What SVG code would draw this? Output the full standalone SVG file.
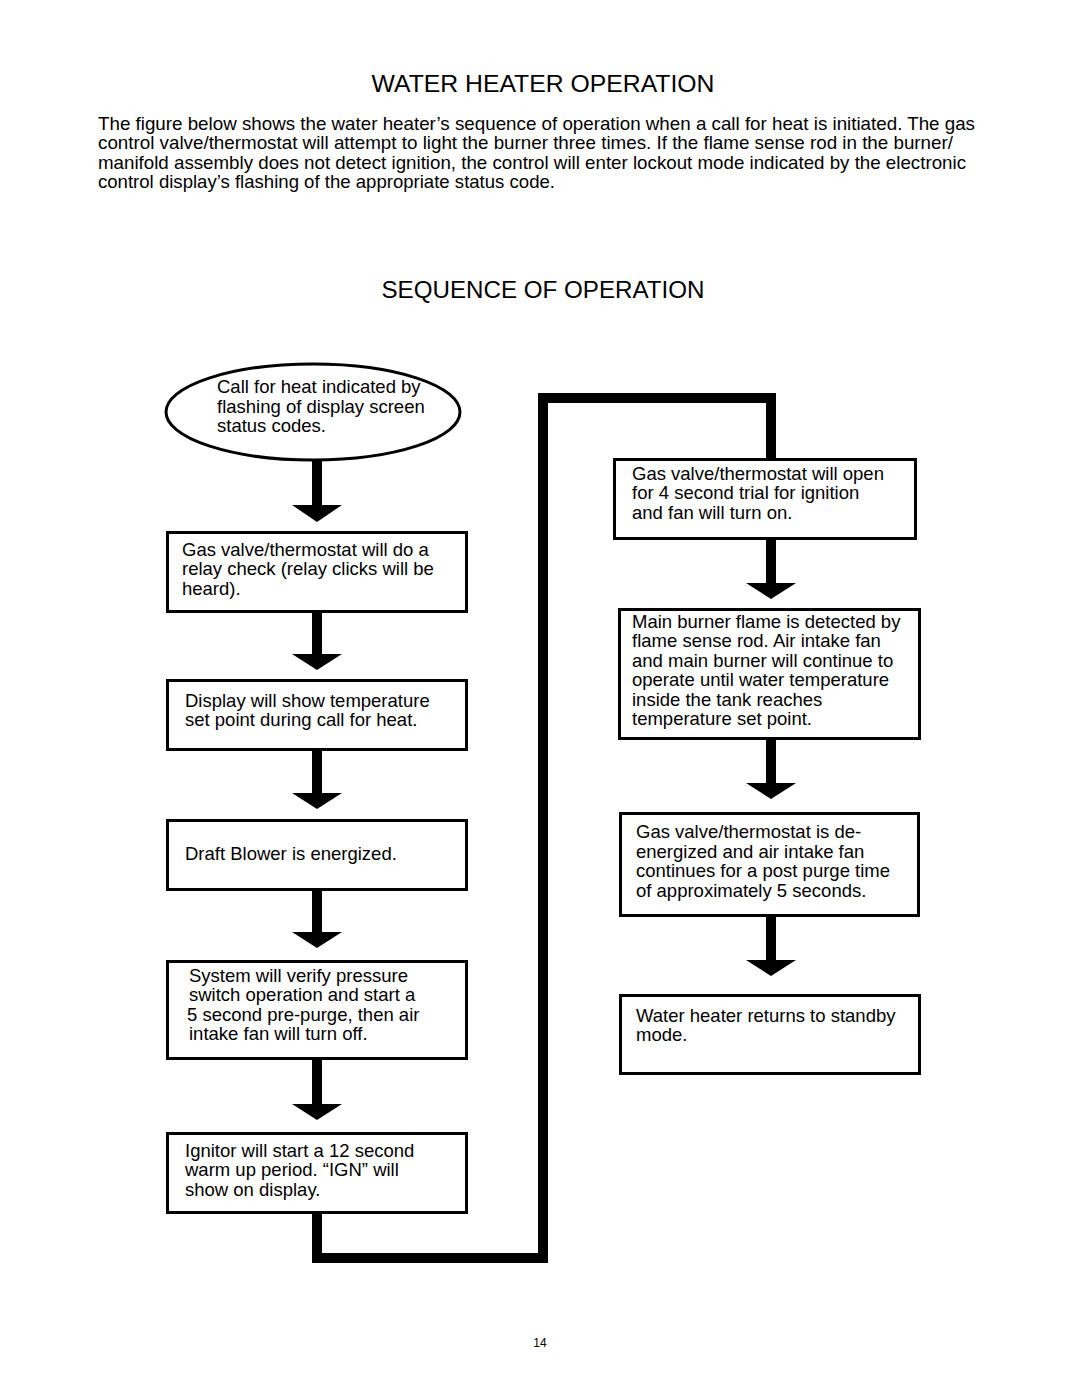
<svg xmlns="http://www.w3.org/2000/svg" width="1080" height="1397" viewBox="0 0 1080 1397">
<style>
text{font-family:"Liberation Sans",Arial,sans-serif;fill:#000}
.t{font-size:18.5px}
.h{font-size:24px}
.p{font-size:18.5px}
.box{fill:#fff;stroke:#000;stroke-width:3}
.arr{fill:#000}
.loop{fill:none;stroke:#000;stroke-width:10;stroke-linejoin:miter}
</style>
<rect width="1080" height="1397" fill="#fff"/>
<text class="h" x="543" y="92" text-anchor="middle" textLength="343" lengthAdjust="spacingAndGlyphs">WATER HEATER OPERATION</text>
<text class="p" x="98" y="130" textLength="877" lengthAdjust="spacingAndGlyphs">The figure below shows the water heater’s sequence of operation when a call for heat is initiated. The gas</text>
<text class="p" x="98" y="149" textLength="855" lengthAdjust="spacingAndGlyphs">control valve/thermostat will attempt to light the burner three times. If the flame sense rod in the burner/</text>
<text class="p" x="98" y="169" textLength="868" lengthAdjust="spacingAndGlyphs">manifold assembly does not detect ignition, the control will enter lockout mode indicated by the electronic</text>
<text class="p" x="98" y="188" textLength="457" lengthAdjust="spacingAndGlyphs">control display’s flashing of the appropriate status code.</text>
<text class="h" x="543" y="298" text-anchor="middle" textLength="323" lengthAdjust="spacingAndGlyphs">SEQUENCE OF OPERATION</text>

<g id="connectors">
<polyline class="loop" points="317,1212 317,1258 543,1258 543,398 771,398 771,460"/>
<path class="arr" d="M312,458 H322 V505 H342 L317,522 L292,505 H312 Z"/>
<path class="arr" d="M312,612 H322 V654 H342 L317,670 L292,654 H312 Z"/>
<path class="arr" d="M312,749 H322 V793 H342 L317,809 L292,793 H312 Z"/>
<path class="arr" d="M312,890 H322 V932 H342 L317,948 L292,932 H312 Z"/>
<path class="arr" d="M312,1059 H322 V1104 H342 L317,1120 L292,1104 H312 Z"/>
<path class="arr" d="M766,539 H776 V583 H796 L771,599 L746,583 H766 Z"/>
<path class="arr" d="M766,739 H776 V783 H796 L771,799 L746,783 H766 Z"/>
<path class="arr" d="M766,916 H776 V960 H796 L771,976 L746,960 H766 Z"/>
</g>

<g id="start">
<ellipse class="box" cx="313" cy="412" rx="147" ry="48"/>
<text class="t" x="217" y="393">Call for heat indicated by</text>
<text class="t" x="217" y="413">flashing of display screen</text>
<text class="t" x="217" y="432">status codes.</text>
</g>
<g id="relay">
<rect class="box" x="167.5" y="532.5" width="299" height="79"/>
<text class="t" x="182" y="556">Gas valve/thermostat will do a</text>
<text class="t" x="182" y="575">relay check (relay clicks will be</text>
<text class="t" x="182" y="595">heard).</text>
</g>
<g id="display">
<rect class="box" x="167.5" y="680.5" width="299" height="69"/>
<text class="t" x="185" y="707">Display will show temperature</text>
<text class="t" x="185" y="726">set point during call for heat.</text>
</g>
<g id="blower">
<rect class="box" x="167.5" y="820.5" width="299" height="69"/>
<text class="t" x="185" y="860">Draft Blower is energized.</text>
</g>
<g id="pressure">
<rect class="box" x="167.5" y="961.5" width="299" height="97"/>
<text class="t" x="189" y="982">System will verify pressure</text>
<text class="t" x="189" y="1001">switch operation and start a</text>
<text class="t" x="187" y="1021">5 second pre-purge, then air</text>
<text class="t" x="189" y="1040">intake fan will turn off.</text>
</g>
<g id="ignitor">
<rect class="box" x="167.5" y="1133.5" width="299" height="79"/>
<text class="t" x="185" y="1157">Ignitor will start a 12 second</text>
<text class="t" x="185" y="1176">warm up period. “IGN” will</text>
<text class="t" x="185" y="1196">show on display.</text>
</g>
<g id="trial">
<rect class="box" x="614.5" y="459.5" width="301" height="79"/>
<text class="t" x="632" y="480">Gas valve/thermostat will open</text>
<text class="t" x="632" y="499">for 4 second trial for ignition</text>
<text class="t" x="632" y="519">and fan will turn on.</text>
</g>
<g id="flame">
<rect class="box" x="619.5" y="609.5" width="300" height="129"/>
<text class="t" x="632" y="628">Main burner flame is detected by</text>
<text class="t" x="632" y="647">flame sense rod. Air intake fan</text>
<text class="t" x="632" y="667">and main burner will continue to</text>
<text class="t" x="632" y="686">operate until water temperature</text>
<text class="t" x="632" y="706">inside the tank reaches</text>
<text class="t" x="632" y="725">temperature set point.</text>
</g>
<g id="postpurge">
<rect class="box" x="620.5" y="813.5" width="298" height="102"/>
<text class="t" x="636" y="838">Gas valve/thermostat is de-</text>
<text class="t" x="636" y="858">energized and air intake fan</text>
<text class="t" x="636" y="877">continues for a post purge time</text>
<text class="t" x="636" y="897">of approximately 5 seconds.</text>
</g>
<g id="standby">
<rect class="box" x="620.5" y="995.5" width="299" height="78"/>
<text class="t" x="636" y="1022">Water heater returns to standby</text>
<text class="t" x="636" y="1041">mode.</text>
</g>
<text x="540" y="1347" font-size="12" text-anchor="middle">14</text>
</svg>
